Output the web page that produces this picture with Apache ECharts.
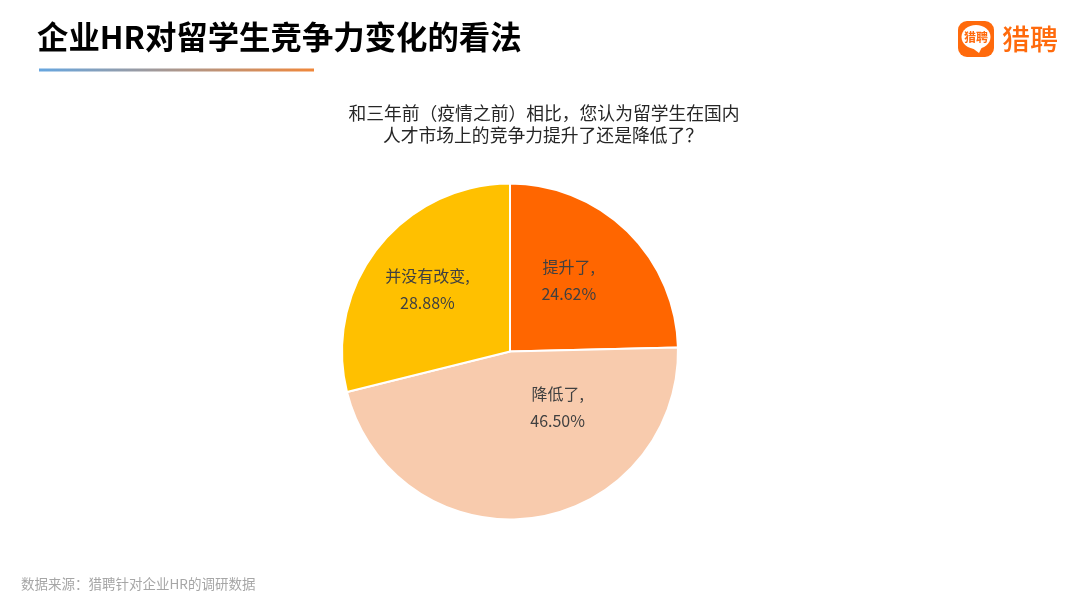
<!DOCTYPE html>
<html>
<head>
<meta charset="utf-8">
<style>
html,body{margin:0;padding:0;background:#fff;}
#main{width:1080px;height:608px;}
</style>
<script src="https://cdn.jsdelivr.net/npm/echarts@6/dist/echarts.min.js"></script>
</head>
<body>
<div id="main"></div>
<script>
var categories = ['提升了', '降低了', '并没有改变'];
var shares = [24.62, 46.50, 28.88];
var sliceColors = ['#FF6600', '#F8CBAD', '#FFC000'];
var labelNudges = [[-2, -9], [36, -30], [-14, -8]];

var font = '"Noto Sans CJK SC", "Noto Sans", sans-serif';

var pieData = [];
for (var i = 0; i < categories.length; i++) {
    pieData.push({
        name: categories[i],
        value: shares[i],
        itemStyle: { color: sliceColors[i] },
        label: { offset: labelNudges[i] }
    });
}

var chart = echarts.init(document.getElementById('main'));
chart.setOption({
    backgroundColor: '#fff',
    animation: false,
    series: [
        {
            type: 'pie',
            center: [510, 351.5],
            radius: [0, 168],
            startAngle: 90,
            clockwise: true,
            data: pieData,
            itemStyle: { borderColor: '#fff', borderWidth: 2 },
            label: {
                position: 'inside',
                fontFamily: font,
                fontSize: 16,
                lineHeight: 27,
                color: '#404040',
                formatter: function (p) {
                    return p.name + ',\n' + p.value.toFixed(2) + '%';
                }
            },
            labelLine: { show: false },
            silent: true
        }
    ],
    graphic: [
        { type: 'text', left: 37, top: 21, style: { text: '企业HR对留学生竞争力变化的看法', font: 'bold 31.4px ' + font, fill: '#000' } },
        {
            type: 'rect', shape: { x: 39, y: 68.5, width: 275, height: 3 },
            style: { fill: new echarts.graphic.LinearGradient(0, 0, 1, 0, [
                { offset: 0, color: '#66A6E0' },
                { offset: 1, color: '#F0873A' }
            ]) }
        },
        { type: 'text', x: 544, y: 113, style: { text: '和三年前（疫情之前）相比，您认为留学生在国内', font: '17.8px ' + font, fill: '#262626', align: 'center', verticalAlign: 'middle' } },
        { type: 'text', x: 543, y: 135, style: { text: '人才市场上的竞争力提升了还是降低了？', font: '17.8px ' + font, fill: '#262626', align: 'center', verticalAlign: 'middle' } },
        { type: 'text', left: 21, top: 577, style: { text: '数据来源：猎聘针对企业HR的调研数据', font: '13.5px ' + font, fill: '#A6A6A6' } },
        // logo
        { type: 'rect', shape: { x: 958, y: 21, width: 36, height: 36, r: 9 }, style: { fill: '#FF6A0C' } },
        { type: 'ellipse', shape: { cx: 976, cy: 37, rx: 14.5, ry: 12 }, style: { fill: '#fff' } },
        { type: 'polygon', shape: { points: [[971, 47], [982, 47], [979, 53]] }, style: { fill: '#fff' } },
        { type: 'text', x: 976, y: 37, style: { text: '猎聘', font: 'bold 12px ' + font, fill: '#FF6A0C', align: 'center', verticalAlign: 'middle' } },
        { type: 'text', x: 1030, y: 39, style: { text: '猎聘', font: '500 28px ' + font, fill: '#FF6A0C', align: 'center', verticalAlign: 'middle' } }
    ]
});
</script>
</body>
</html>
